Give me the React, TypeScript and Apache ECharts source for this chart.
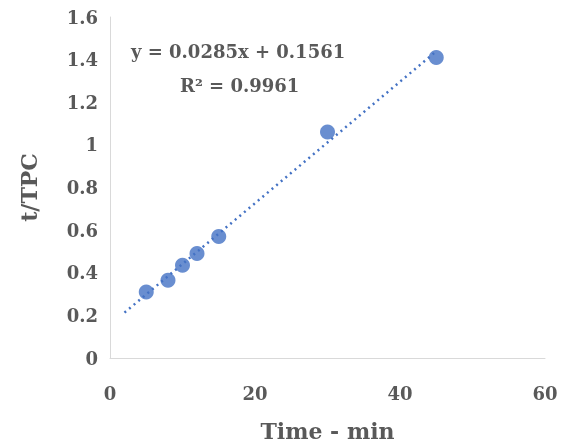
import React, { useEffect, useRef } from "react";
import * as echarts from "echarts";

const timeMin = [5, 8, 10, 12, 15, 30, 45];
const tpcRatio = [0.31, 0.365, 0.435, 0.49, 0.57, 1.06, 1.41];
const trendX = [2, 45];
const trendY = [0.213, 1.439];
const eqLine1 = "y = 0.0285x + 0.1561";
const eqLine2 = "R² = 0.9961";

const font = "DejaVu Serif";

export default function App() {
  const ref = useRef<HTMLDivElement>(null);
  useEffect(() => {
    const chart = echarts.init(ref.current!, undefined, { renderer: "svg" });
    chart.setOption({
      animation: false,
      textStyle: { fontFamily: font, fontWeight: "bold" },
      grid: { left: 110, right: 16, top: 17, bottom: 90, containLabel: false, outerBoundsMode: "none" },
      xAxis: {
        type: "value", min: 0, max: 60, interval: 20,
        name: "Time - min", nameLocation: "middle", nameGap: 62,
        nameTextStyle: { fontFamily: font, fontWeight: "bold", fontSize: 22, color: "#595959" },
        axisLine: { show: true, lineStyle: { color: "#d9d9d9" } },
        axisTick: { show: false }, splitLine: { show: false },
        axisLabel: { fontFamily: font, fontWeight: "bold", fontSize: 18, color: "#595959", margin: 26 },
      },
      yAxis: {
        type: "value", min: 0, max: 1.6, interval: 0.2,
        name: "t/TPC", nameLocation: "middle", nameGap: 70,
        nameTextStyle: { fontFamily: font, fontWeight: "bold", fontSize: 22, color: "#595959" },
        axisLine: { show: true, lineStyle: { color: "#d9d9d9" } },
        axisTick: { show: false }, splitLine: { show: false },
        axisLabel: { fontFamily: font, fontWeight: "bold", fontSize: 18, color: "#595959", margin: 12,
          formatter: (v: number) => String(Math.round(v * 10) / 10) },
      },
      series: [
        {
          type: "line", data: trendX.map((x, i) => [x, trendY[i]]), symbol: "none",
          lineStyle: { type: [2, 4], width: 2.5, color: "#4472C4" }, z: 1,
        },
        {
          type: "scatter", data: timeMin.map((x, i) => [x, tpcRatio[i]]), symbolSize: 15,
          itemStyle: { color: "#4472C4" }, z: 2,
        },
      ],
      graphic: [
        { type: "text", left: 131, top: 42, style: { text: eqLine1, fontFamily: font, fontWeight: "bold", fontSize: 18, fill: "#595959" } },
        { type: "text", left: 180, top: 76, style: { text: eqLine2, fontFamily: font, fontWeight: "bold", fontSize: 18, fill: "#595959" } },
      ],
    });
    return () => chart.dispose();
  }, []);
  return <div ref={ref} style={{ position: "fixed", left: 0, top: 0, width: 561, height: 448 }} />;
}
